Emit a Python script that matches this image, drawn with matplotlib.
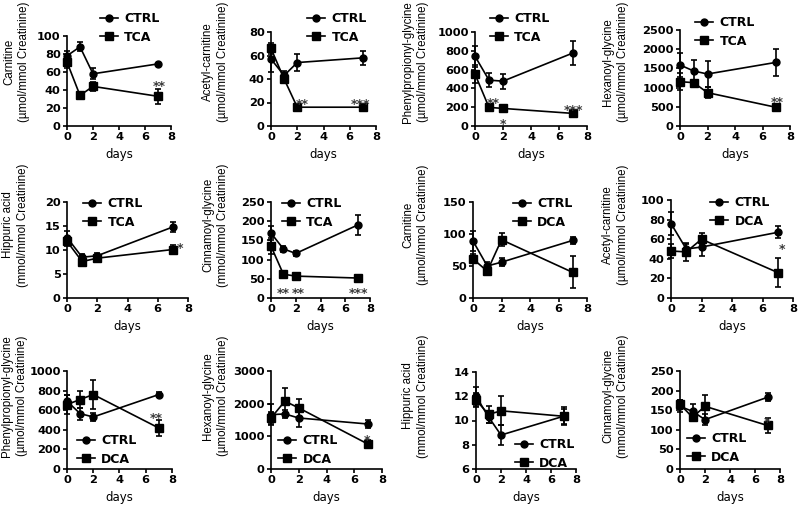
"""Urinary metabolite time courses, CTRL vs TCA / DCA, 3x4 grid of small panels."""
import matplotlib
matplotlib.use("Agg")
import matplotlib.pyplot as plt
from matplotlib.lines import Line2D

plt.rcParams["font.family"] = ["DejaVu Sans"]
plt.rcParams["font.weight"] = "bold"
plt.rcParams["font.size"] = 8.5

days = [0, 1, 2, 7]

# --- TCA study ---
carn_tca_ctrl = [78, 88, 58, 69]
carn_tca_ctrl_err = [5, 5, 6, 1.5]
carn_tca = [71, 34, 44, 33]
carn_tca_err = [6, 4, 5, 8]

acet_tca_ctrl = [57, 43, 54, 58]
acet_tca_ctrl_err = [11, 4, 7, 6]
acet_tca = [66, 40, 16, 16]
acet_tca_err = [5, 3, 1.5, 1.5]

phen_tca_ctrl = [742, 488, 477, 777]
phen_tca_ctrl_err = [110, 75, 80, 130]
phen_tca = [551, 198, 187, 134]
phen_tca_err = [95, 20, 15, 12]

hexa_tca_ctrl = [1589, 1432, 1354, 1658]
hexa_tca_ctrl_err = [300, 280, 350, 360]
hexa_tca = [1155, 1128, 868, 486]
hexa_tca_err = [230, 50, 140, 50]

hipp_tca_ctrl = [12.6, 8.5, 8.8, 14.8]
hipp_tca_ctrl_err = [1.3, 0.6, 0.5, 1.0]
hipp_tca = [11.8, 7.6, 8.3, 10.1]
hipp_tca_err = [0.9, 0.6, 0.5, 1.0]

cinn_tca_ctrl = [169, 128, 116, 190]
cinn_tca_ctrl_err = [19, 8, 7, 26]
cinn_tca = [135, 62, 57, 52]
cinn_tca_err = [20, 5, 8, 5]

# --- DCA study ---
carn_dca_ctrl = [89, 50, 56, 90]
carn_dca_ctrl_err = [15, 6, 6, 5]
carn_dca = [61, 42, 91, 40]
carn_dca_err = [7, 5, 10, 25]

acet_dca_ctrl = [76, 50, 52, 67]
acet_dca_ctrl_err = [12, 5, 9, 6]
acet_dca = [48, 47, 60, 26]
acet_dca_err = [7, 9, 6, 15]

phen_dca_ctrl = [692, 565, 531, 760]
phen_dca_ctrl_err = [60, 60, 40, 30]
phen_dca = [658, 709, 760, 418]
phen_dca_err = [100, 90, 150, 85]

hexa_dca_ctrl = [1665, 1685, 1562, 1377]
hexa_dca_ctrl_err = [330, 120, 270, 130]
hexa_dca = [1562, 2076, 1870, 760]
hexa_dca_err = [180, 390, 270, 130]

hipp_dca_ctrl = [12.0, 10.3, 8.8, 10.35]
hipp_dca_ctrl_err = [0.8, 0.5, 0.85, 0.75]
hipp_dca = [11.7, 10.5, 10.8, 10.35]
hipp_dca_err = [0.6, 0.7, 1.2, 0.6]

cinn_dca_ctrl = [160, 147, 126, 183]
cinn_dca_ctrl_err = [15, 18, 15, 10]
cinn_dca = [165, 132, 160, 111]
cinn_dca_err = [12, 10, 30, 18]

# significance marks: (day, y, text)
carn_tca_stars = [(7.1, 48, "**")]
acet_tca_stars = [(2.4, 22, "**"), (6.85, 22, "***")]
phen_tca_stars = [(1.3, 280, "**"), (2.0, 65, "*"), (7.0, 210, "***")]
hexa_tca_stars = [(7.1, 720, "**")]
hipp_tca_stars = [(7.5, 11.2, "*")]
cinn_tca_stars = [(1.0, 22, "**"), (2.2, 22, "**"), (7.1, 22, "***")]
carn_dca_stars = []
acet_dca_stars = [(7.3, 54, "*")]
phen_dca_stars = [(6.8, 560, "**")]
hexa_dca_stars = [(6.9, 1000, "*")]
hipp_dca_stars = []
cinn_dca_stars = [(7.0, 128, "*")]

W, H = 800, 508


def fx(px):
    return px / W


def fy(py):
    return 1 - py / H


fig = plt.figure(figsize=(W / 100, H / 100), dpi=100)

# (name, unit, ctrl, ctrl_err, trt, trt_err, trt_name, yticks, stars)
panels = [
    ("Carnitine", "µmol", carn_tca_ctrl, carn_tca_ctrl_err, carn_tca, carn_tca_err,
     "TCA", [0, 20, 40, 60, 80, 100], carn_tca_stars),
    ("Acetyl-carnitine", "µmol", acet_tca_ctrl, acet_tca_ctrl_err, acet_tca, acet_tca_err,
     "TCA", [0, 20, 40, 60, 80], acet_tca_stars),
    ("Phenylpropionyl-glycine", "µmol", phen_tca_ctrl, phen_tca_ctrl_err, phen_tca, phen_tca_err,
     "TCA", [0, 200, 400, 600, 800, 1000], phen_tca_stars),
    ("Hexanoyl-glycine", "µmol", hexa_tca_ctrl, hexa_tca_ctrl_err, hexa_tca, hexa_tca_err,
     "TCA", [0, 500, 1000, 1500, 2000, 2500], hexa_tca_stars),
    ("Hippuric acid", "mmol", hipp_tca_ctrl, hipp_tca_ctrl_err, hipp_tca, hipp_tca_err,
     "TCA", [0, 5, 10, 15, 20], hipp_tca_stars),
    ("Cinnamoyl-glycine", "mmol", cinn_tca_ctrl, cinn_tca_ctrl_err, cinn_tca, cinn_tca_err,
     "TCA", [0, 50, 100, 150, 200, 250], cinn_tca_stars),
    ("Carnitine", "µmol", carn_dca_ctrl, carn_dca_ctrl_err, carn_dca, carn_dca_err,
     "DCA", [0, 50, 100, 150], carn_dca_stars),
    ("Acetyl-carnitine", "µmol", acet_dca_ctrl, acet_dca_ctrl_err, acet_dca, acet_dca_err,
     "DCA", [0, 20, 40, 60, 80, 100], acet_dca_stars),
    ("Phenylpropionyl-glycine", "µmol", phen_dca_ctrl, phen_dca_ctrl_err, phen_dca, phen_dca_err,
     "DCA", [0, 200, 400, 600, 800, 1000], phen_dca_stars),
    ("Hexanoyl-glycine", "µmol", hexa_dca_ctrl, hexa_dca_ctrl_err, hexa_dca, hexa_dca_err,
     "DCA", [0, 1000, 2000, 3000], hexa_dca_stars),
    ("Hippuric acid", "mmol", hipp_dca_ctrl, hipp_dca_ctrl_err, hipp_dca, hipp_dca_err,
     "DCA", [6, 8, 10, 12, 14], hipp_dca_stars),
    ("Cinnamoyl-glycine", "mmol", cinn_dca_ctrl, cinn_dca_ctrl_err, cinn_dca, cinn_dca_err,
     "DCA", [0, 50, 100, 150, 200, 250], cinn_dca_stars),
]

# axes box in pixels: left, top, right (x=8), bottom
boxes = [
    (67, 36, 171, 126), (271, 32, 376, 126), (475, 32, 587, 126), (680, 30, 790, 126),
    (67, 202, 188, 298), (271, 202, 370, 298), (473, 202, 587, 298), (671, 200, 793, 298),
    (67, 371, 172, 469), (271, 371, 382, 469), (476, 372, 576, 469), (680, 371, 780, 469),
]
# legend: left of handle, centre of first row (pixels)
legend_at = [
    (100, 18), (307, 18), (490, 18), (695, 22),
    (83, 203), (282, 203), (513, 203), (710, 202),
    (77, 440), (278, 440), (515, 444), (687, 438),
]
# right edge of the two-line y label (pixels)
label_x = [30, 229, 429, 629, 29, 229, 429, 629, 28, 229, 429, 629]
row_label_y = [62, 225, 396]

for i, (name, unit, ctrl, ctrl_err, trt, trt_err, trt_name, yticks, stars) in enumerate(panels):
    l, t, r, b = boxes[i]
    ax = fig.add_axes([fx(l), fy(b), fx(r) - fx(l), fy(t) - fy(b)])
    kw = dict(color="black", lw=1.2, elinewidth=1.2, capsize=2.5, capthick=1.2, clip_on=False)
    e1 = ax.errorbar(days, ctrl, yerr=ctrl_err, marker="o", ms=5, **kw)
    e2 = ax.errorbar(days, trt, yerr=trt_err, marker="s", ms=5.5, **kw)
    for art in (e1, e2):
        for child in art.get_children():
            child.set_clip_on(False)
    for sx, sy, st in stars:
        ax.annotate(st, (sx, sy), xytext=(0, -3), textcoords="offset points",
                    ha="center", va="center", fontsize=9, color="#3a3a3a",
                    fontweight="bold")

    ax.set_xlim(0, 8)
    ax.set_xticks([0, 2, 4, 6, 8])
    ax.set_ylim(yticks[0], yticks[-1])
    ax.set_yticks(yticks)
    for side in ("top", "right"):
        ax.spines[side].set_visible(False)
    for side in ("left", "bottom"):
        ax.spines[side].set_linewidth(1.2)
    ax.tick_params(direction="out", length=3, width=1.2, pad=1.5, labelsize=8.2)
    ax.set_xlabel("days", labelpad=4, fontsize=8.5)
    ax.set_ylabel(f"{name}\n({unit}/mmol Creatinine)", linespacing=1.3,
                  family=["Liberation Sans", "DejaVu Sans"], fontsize=8.3)
    ax.yaxis.set_label_coords(fx(label_x[i]), fy(row_label_y[i // 4]),
                              transform=fig.transFigure)

    handles = [
        Line2D([], [], color="black", lw=1.2, marker="o", ms=5),
        Line2D([], [], color="black", lw=1.2, marker="s", ms=5.5),
    ]
    lx, ly = legend_at[i]
    ax.legend(handles, ["CTRL", trt_name], loc="upper left",
              bbox_to_anchor=(fx(lx), fy(ly - 6)),
              bbox_transform=fig.transFigure, frameon=False, borderpad=0,
              borderaxespad=0, handlelength=1.4, handletextpad=0.55,
              labelspacing=0.45, fontsize=9)

fig.savefig("out.png", dpi=100)
